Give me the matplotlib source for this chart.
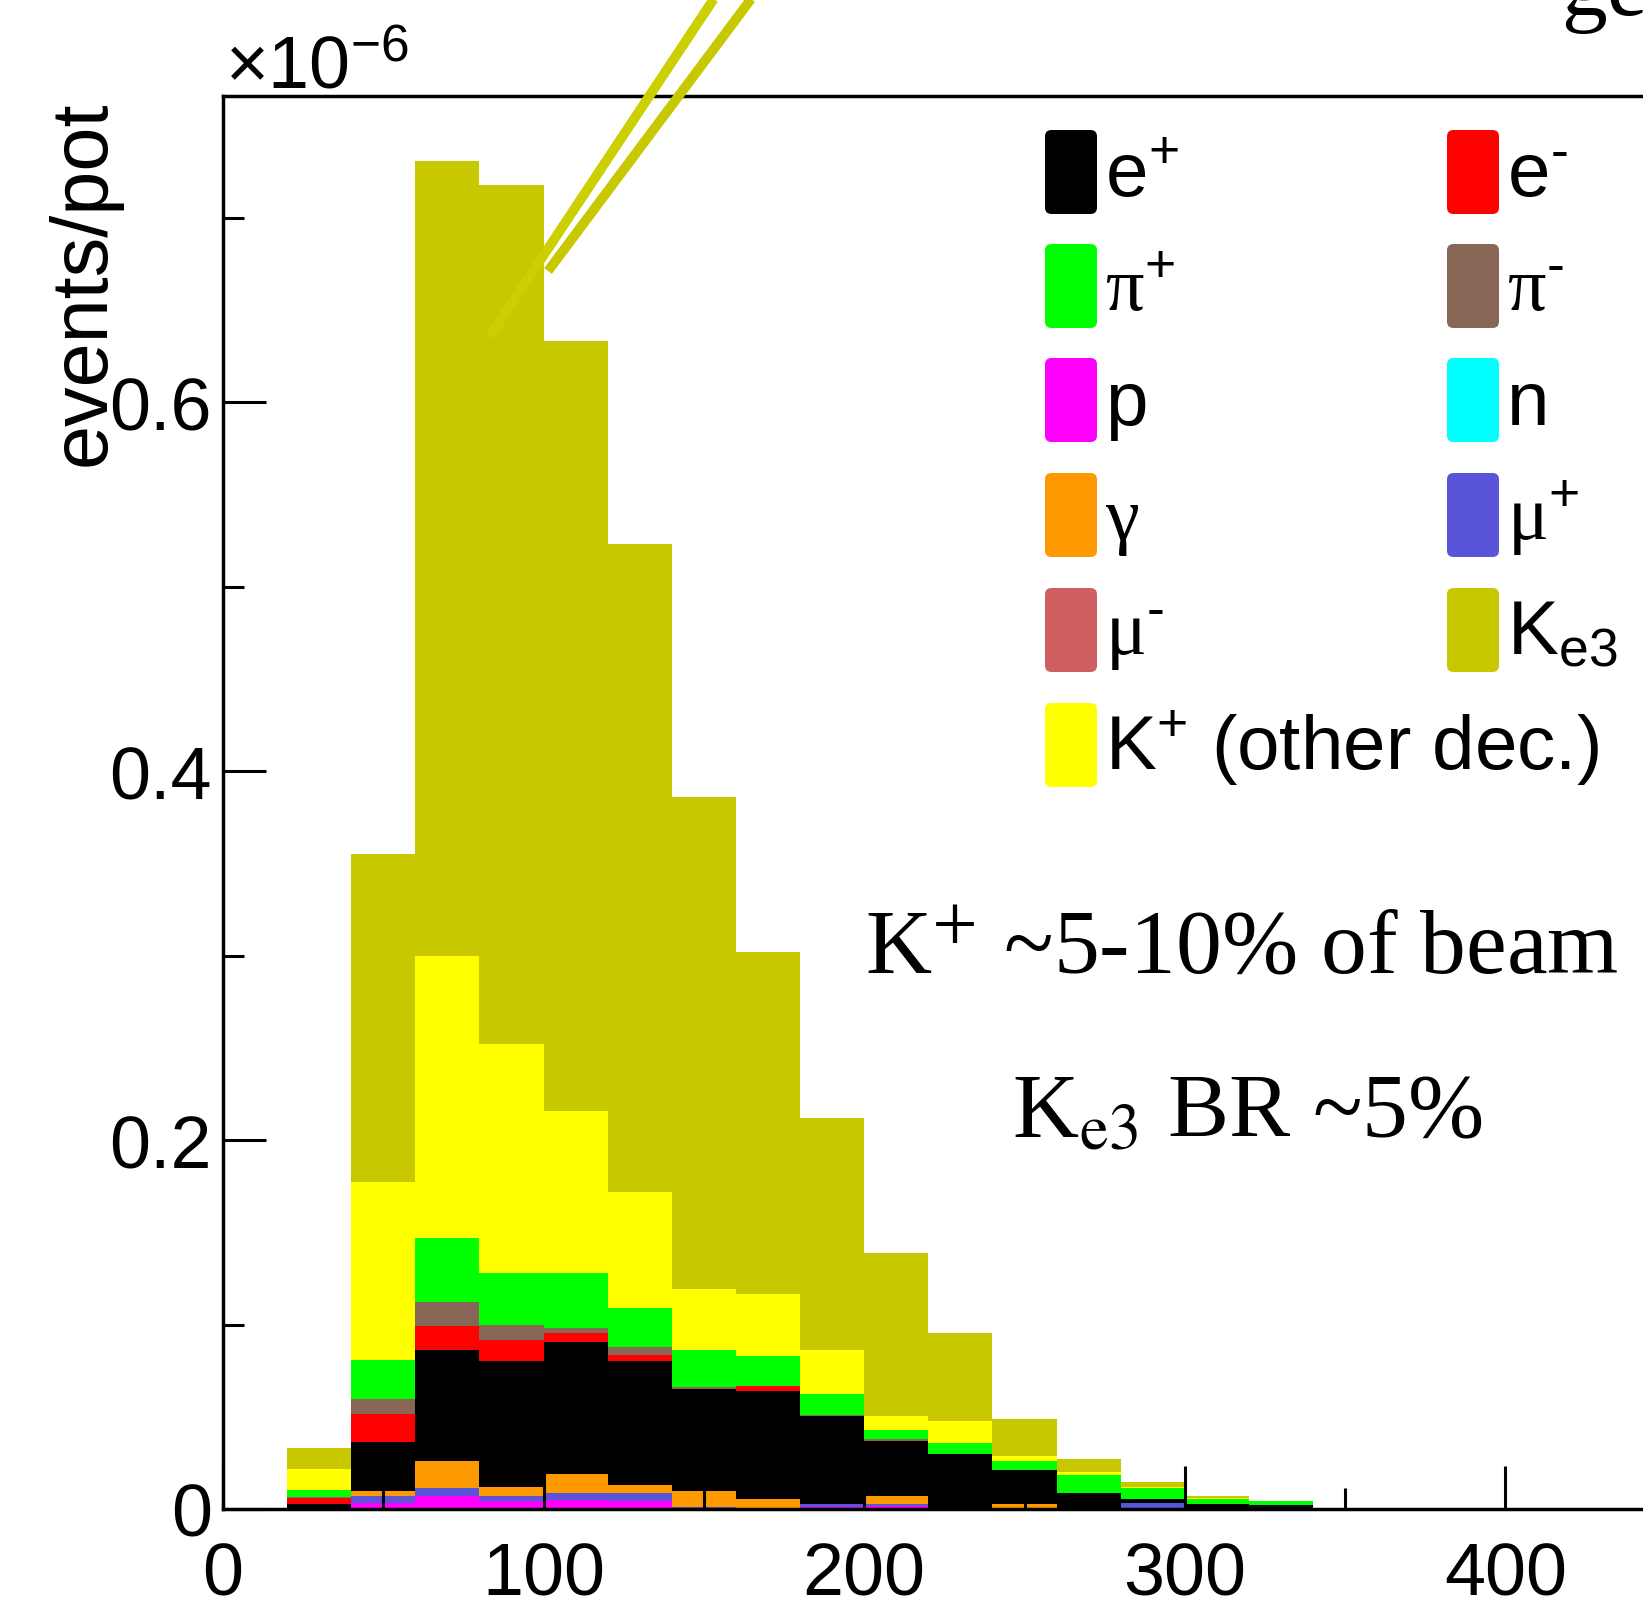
import numpy as np
import matplotlib
matplotlib.use("Agg")
import matplotlib.pyplot as plt
from matplotlib.patches import FancyBboxPatch
from matplotlib.lines import Line2D

plt.rcParams['font.family'] = ['Liberation Sans', 'DejaVu Sans']
plt.rcParams['mathtext.fontset'] = 'custom'
plt.rcParams['mathtext.rm'] = 'Liberation Sans'
plt.rcParams['mathtext.it'] = 'Liberation Sans:italic'
plt.rcParams['mathtext.bf'] = 'Liberation Sans:bold'

# histogram bins (lower edges), width 20
bin_lo = [0, 20, 40, 60, 80, 100, 120, 140, 160, 180, 200, 220, 240, 260, 280, 300, 320]
bin_width = 20

# per-species contributions (units of 1e-6 events/pot), stacked bottom -> top
p_vals = [0, .0005, .003, .0069, .0042, .0051, .0042, .0008, .0005, .001, .0015, 0, 0, 0, 0, 0, 0]
n_vals = [0] * 17
mup_vals = [0, 0, .0039, .0045, .0027, .0036, .0045, .0005, 0, .0017, .001, 0, 0, 0, .0033, 0, 0]
mum_vals = [0] * 17
gamma_vals = [0, 0, .0027, .0144, .0048, .0103, .0045, .0086, .0049, 0, .0044, 0, .0025, 0, 0, 0, 0]
ep_vals = [0, .0022, .0265, .0602, .0687, .0715, .0672, .0551, .0584, .0475, .0301, .0298, .0188, .0087, .0021, .0029, .0023]
em_vals = [0, .0033, .0154, .0134, .0114, .0049, .0032, 0, .0027, 0, 0, 0, 0, 0, 0, 0, 0]
pim_vals = [0, .0005, .0081, .0126, .0077, .0026, .0042, .001, 0, .0009, .001, 0, 0, 0, 0, 0, 0]
pip_vals = [0, .004, .021, .035, .0285, .030, .0212, .020, .0165, .0112, .005, .006, .0045, .0099, .006, .0027, .0019]
kother_vals = [0, .011, .0964, .153, .124, .088, .063, .033, .0337, .0237, .0072, .0117, .0031, .0013, .0006, .0005, 0]
ke3_vals = [0, .0115, .178, .431, .466, .417, .351, .267, .185, .126, .0888, .0479, .0201, .0072, .0025, .0008, .0003]

colors = {
    'ep': '#000000', 'em': '#FF0000', 'pip': '#00FF00', 'pim': '#876656',
    'p': '#FF00FF', 'n': '#00FFFF', 'gamma': '#FF9900', 'mup': '#5954D8',
    'mum': '#CF5E61', 'ke3': '#C8C800', 'kother': '#FFFF00',
}

stack_order = [('p', p_vals), ('n', n_vals), ('mup', mup_vals), ('mum', mum_vals),
               ('gamma', gamma_vals), ('ep', ep_vals), ('em', em_vals), ('pim', pim_vals),
               ('pip', pip_vals), ('kother', kother_vals), ('ke3', ke3_vals)]

# legend: (key, label, font family), two columns
legend_col1 = [('ep', 'e$^{+}$', 'sans'), ('pip', 'π$^{+}$', 'serif'), ('p', 'p', 'sans'),
               ('gamma', 'γ', 'serif'), ('mum', 'μ$^{\\text{-}}$', 'serif'),
               ('kother', 'K$^{+}$ (other dec.)', 'sans')]
legend_col2 = [('em', 'e$^{\\text{-}}$', 'sans'), ('pim', 'π$^{\\text{-}}$', 'serif'), ('n', 'n', 'sans'),
               ('mup', 'μ$^{+}$', 'serif'), ('ke3', 'K$_{\\mathrm{e3}}$', 'sans')]

x_ticks = [0, 100, 200, 300, 400, 500]
x_tick_labels = ['0', '100', '200', '300', '400', '500']
y_ticks = [0, 0.2, 0.4, 0.6]
y_tick_labels = ['0', '0.2', '0.4', '0.6']

W, H = 1643, 1608
fig = plt.figure(figsize=(W / 100, H / 100), dpi=100)


def fx(x):
    return x / W


def fy(y):
    return 1 - y / H


# axes run past the right edge of the picture (cropped slide)
ax = fig.add_axes([223 / W, 98 / H, 1603 / W, 1413 / H])

bottom = np.zeros(len(bin_lo))
for key, vals in stack_order:
    vals = np.array(vals)
    ax.bar(bin_lo, vals, width=bin_width, bottom=bottom, align='edge',
           color=colors[key], linewidth=0, zorder=1)
    bottom += vals

ax.set_xlim(0, 500)
ax.set_ylim(0, 0.766)
ax.set_xticks(x_ticks)
ax.set_xticklabels(x_tick_labels)
ax.set_xticks([50, 150, 250, 350, 450], minor=True)
ax.set_yticks(y_ticks)
ax.set_yticklabels(y_tick_labels)
ax.set_yticks([0.1, 0.3, 0.5, 0.7], minor=True)
ax.tick_params(which='both', direction='in', top=False, right=False, width=2.2, color='black')
ax.tick_params(which='major', length=31, labelsize=53)
ax.tick_params(which='minor', length=15)
ax.tick_params(axis='x', which='major', pad=23)
ax.tick_params(axis='y', which='major', pad=8)
for s in ax.spines.values():
    s.set_linewidth(2.5)

fig.text(fx(105), fy(100), 'events/pot', rotation=90, rotation_mode='anchor',
         ha='right', va='baseline', fontsize=57)
fig.text(fx(225), fy(88), '×10$^{-6}$', ha='left', va='baseline', fontsize=53)

# legend drawn by hand (last entry overhangs the second column)
row_y = [173, 287, 401, 516, 631, 746]
for col_x, entries in [(1045, legend_col1), (1447, legend_col2)]:
    for (key, label, fam), yc in zip(entries, row_y):
        box = FancyBboxPatch((fx(col_x), fy(yc + 42)), 52 / W, 84 / H,
                             boxstyle='round,pad=0,rounding_size=0.004',
                             transform=fig.transFigure, facecolor=colors[key],
                             edgecolor='none')
        fig.add_artist(box)
        family = ['Liberation Serif', 'DejaVu Serif'] if fam == 'serif' else ['Liberation Sans', 'DejaVu Sans']
        fig.text(fx(col_x + 60), fy(yc + 24), label, ha='left', va='baseline',
                 fontsize=55, family=family)

serif = ['Liberation Serif', 'DejaVu Serif']
fig.text(fx(865), fy(973), 'K$^{+}$ ~5-10% of beam', ha='left', va='baseline',
         fontsize=66, family=serif, math_fontfamily='stix')
fig.text(fx(1012), fy(1137), 'K$_{\\mathrm{e3}}$ BR ~5%', ha='left', va='baseline',
         fontsize=66, family=serif, math_fontfamily='stix')
fig.text(fx(1561), fy(15), 'ge', ha='left', va='baseline', fontsize=66, family=serif)

# callout lines coming in from above the picture
fig.add_artist(Line2D([fx(727), fx(490)], [fy(-20), fy(337)], color='#CDD000', lw=7,
                      solid_capstyle='butt', transform=fig.transFigure))
fig.add_artist(Line2D([fx(766), fx(548)], [fy(-20), fy(272)], color='#C8C800', lw=7,
                      solid_capstyle='butt', transform=fig.transFigure))

fig.savefig('out.png', dpi=100)
